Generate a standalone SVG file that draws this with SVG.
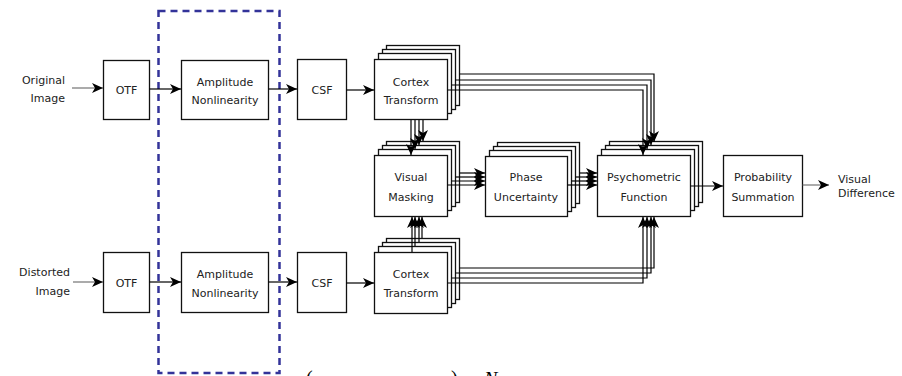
<svg xmlns="http://www.w3.org/2000/svg" width="902" height="376" viewBox="0 0 902 376">
<style>
.bx{fill:#fff;stroke:#111;stroke-width:1.3}
.t{font-family:"DejaVu Sans",sans-serif;font-size:11px;fill:#222}
.c{text-anchor:middle}
.ln{fill:none;stroke:#000;stroke-width:1.2}
.lg{fill:none;stroke:#666;stroke-width:1.1}
.ar{marker-end:url(#ah)}
</style>
<defs>
<marker id="ah" viewBox="-12 -6 13 12" refX="0" refY="0" markerWidth="13" markerHeight="12" orient="auto" markerUnits="userSpaceOnUse">
<path d="M0,0 L-11,-5 L-8,0 L-11,5 Z" fill="#000"/>
</marker>
</defs>
<rect width="902" height="376" fill="#fff"/>
<rect id="highlight" x="158.5" y="11" width="121" height="362" fill="none" stroke="#333399" stroke-width="2.5" stroke-dasharray="7,5"/>

<g id="in-original">
<text class="t" x="65" y="84" text-anchor="end">Original</text>
<text class="t" x="65" y="102" text-anchor="end">Image</text>
</g>
<g id="in-distorted">
<text class="t" x="70" y="276" text-anchor="end">Distorted</text>
<text class="t" x="70" y="295" text-anchor="end">Image</text>
</g>
<g id="otf1"><rect class="bx" x="103.5" y="60.5" width="46" height="59"/><text class="t c" x="126.5" y="94">OTF</text></g>
<g id="otf2"><rect class="bx" x="103.5" y="252.5" width="46" height="60"/><text class="t c" x="126.5" y="287">OTF</text></g>
<g id="amp1"><rect class="bx" x="181.5" y="60.5" width="87" height="59"/><text class="t c" x="225" y="86">Amplitude</text><text class="t c" x="225" y="104">Nonlinearity</text></g>
<g id="amp2"><rect class="bx" x="181.5" y="252.5" width="87" height="60"/><text class="t c" x="225" y="278">Amplitude</text><text class="t c" x="225" y="297">Nonlinearity</text></g>
<g id="csf1"><rect class="bx" x="297.5" y="59.5" width="49" height="60"/><text class="t c" x="322" y="94">CSF</text></g>
<g id="csf2"><rect class="bx" x="297.5" y="252.5" width="49" height="60"/><text class="t c" x="322" y="287">CSF</text></g>

<g id="cortex1">
<rect class="bx" x="386.5" y="45.5" width="73" height="60"/>
<rect class="bx" x="382.5" y="49.5" width="73" height="60"/>
<rect class="bx" x="378.5" y="53.5" width="73" height="60"/>
<rect class="bx" x="374.5" y="59.5" width="73" height="60"/>
<text class="t c" x="411" y="86">Cortex</text><text class="t c" x="411" y="104">Transform</text>
</g>
<g id="cortex2">
<rect class="bx" x="386.5" y="238.5" width="73" height="61"/>
<rect class="bx" x="382.5" y="242.5" width="73" height="61"/>
<rect class="bx" x="378.5" y="246.5" width="73" height="61"/>
<rect class="bx" x="374.5" y="252.5" width="73" height="61"/>
<text class="t c" x="411" y="278">Cortex</text><text class="t c" x="411" y="297">Transform</text>
</g>
<g id="masking">
<rect class="bx" x="386.5" y="141.5" width="73" height="61"/>
<rect class="bx" x="382.5" y="145.5" width="73" height="61"/>
<rect class="bx" x="378.5" y="149.5" width="73" height="61"/>
<rect class="bx" x="374.5" y="155.5" width="73" height="61"/>
<text class="t c" x="411" y="181">Visual</text><text class="t c" x="411" y="201">Masking</text>
</g>
<g id="phase">
<rect class="bx" x="497.5" y="142.5" width="82" height="61"/>
<rect class="bx" x="493.5" y="146.5" width="82" height="61"/>
<rect class="bx" x="489.5" y="150.5" width="82" height="61"/>
<rect class="bx" x="485.5" y="156.5" width="82" height="60"/>
<text class="t c" x="526" y="181">Phase</text><text class="t c" x="526" y="201">Uncertainty</text>
</g>
<g id="psychometric">
<rect class="bx" x="609.5" y="141.5" width="93" height="61"/>
<rect class="bx" x="605.5" y="145.5" width="93" height="61"/>
<rect class="bx" x="601.5" y="149.5" width="93" height="61"/>
<rect class="bx" x="597.5" y="155.5" width="93" height="61"/>
<text class="t c" x="644" y="181">Psychometric</text><text class="t c" x="644" y="201">Function</text>
</g>
<g id="probability">
<rect class="bx" x="723.5" y="155.5" width="79" height="61"/>
<text class="t c" x="763" y="181">Probability</text><text class="t c" x="763" y="201">Summation</text>
</g>
<g id="out">
<text class="t" x="838" y="183">Visual</text>
<text class="t" x="838" y="197">Difference</text>
</g>

<g id="connectors">
<path class="lg ar" d="M72,88 H103"/>
<path class="ln ar" d="M149.5,89 H181"/>
<path class="ln ar" d="M268.5,89 H297"/>
<path class="ln ar" d="M346.5,90 H374"/>
<path class="lg ar" d="M73,282 H103"/>
<path class="ln ar" d="M149.5,282 H181"/>
<path class="ln ar" d="M268.5,282 H297"/>
<path class="ln ar" d="M346.5,283 H374"/>

<path class="ln ar" d="M459.5,74 H654 V142"/>
<path class="ln ar" d="M455.5,80 H651 V145"/>
<path class="ln ar" d="M451.5,85 H647 V149"/>
<path class="ln ar" d="M447.5,90 H643 V155"/>

<path class="ln ar" d="M411,120 V155"/>
<path class="ln ar" d="M415,120 V149"/>
<path class="ln ar" d="M419,120 V145"/>
<path class="ln ar" d="M423,120 V141"/>

<path class="ln ar" d="M412,252 V217"/>
<path class="ln ar" d="M415,246 V217"/>
<path class="ln ar" d="M419,242 V217"/>
<path class="ln ar" d="M422,238 V217"/>

<path class="ln ar" d="M459.5,268 H654 V217"/>
<path class="ln ar" d="M455.5,273 H651 V217"/>
<path class="ln ar" d="M451.5,278 H647 V217"/>
<path class="ln ar" d="M447.5,283 H643 V217"/>

<path class="ln ar" d="M459.5,173 H485"/>
<path class="ln ar" d="M455.5,177 H485"/>
<path class="ln ar" d="M451.5,181 H485"/>
<path class="ln ar" d="M447.5,185 H485"/>

<path class="ln ar" d="M579.5,173 H597"/>
<path class="ln ar" d="M575.5,177 H597"/>
<path class="ln ar" d="M571.5,181 H597"/>
<path class="ln ar" d="M567.5,185 H597"/>

<path class="ln ar" d="M690.5,186 H723"/>
<path class="lg ar" d="M802.5,185 H829"/>
</g>

<g id="cut-formula">
<text x="306" y="385" font-family="'Liberation Serif',serif" font-size="20" fill="#000">(</text>
<text x="451" y="385" font-family="'Liberation Serif',serif" font-size="20" fill="#000">)</text>
<text x="484" y="386" font-family="'Liberation Serif',serif" font-size="20" font-style="italic" fill="#000">N</text>
</g>
</svg>
